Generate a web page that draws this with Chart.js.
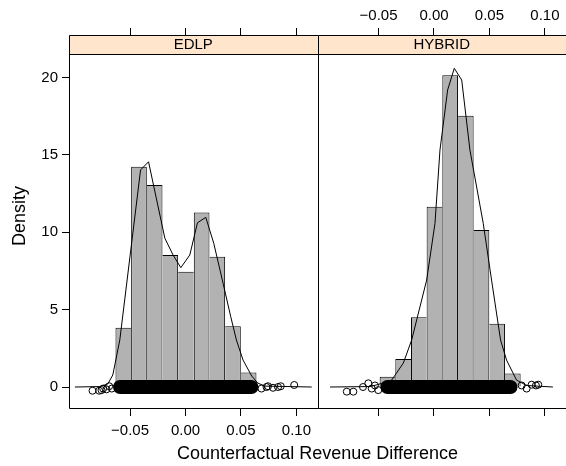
<!DOCTYPE html>
<html><head><meta charset="utf-8">
<script src="https://cdn.jsdelivr.net/npm/chart.js@4"></script>
<style>html,body{margin:0;padding:0;background:#fff;}canvas{display:block;}</style>
</head><body>
<canvas id="c" width="566" height="466"></canvas>
<script>
// ---------- data ----------
const panelNames = ['EDLP', 'HYBRID'];
const binCenters = [-0.05604, -0.04192, -0.0278, -0.01368, 0.00044, 0.01456, 0.02868, 0.0428, 0.05692, 0.07104];
const edlpHist   = [3.83, 14.23, 13.05, 8.53, 7.45, 11.28, 8.42, 3.92, 0.93, null];
const hybridHist = [null, 0.67, 1.81, 4.50, 11.65, 20.14, 17.53, 10.14, 4.09, 0.88];

const edlpDensX = [-0.0997,-0.0772,-0.0700,-0.0655,-0.0592,-0.0405,-0.0333,-0.0186,-0.0112,-0.0042,0.0039,0.0108,0.0183,0.0255,0.0339,0.0408,0.0459,0.0519,0.0597,0.0651,0.0714,0.1138];
const edlpDensY = [0,0.03,0.20,0.78,3.04,14.02,14.55,9.61,8.53,7.71,8.53,10.61,10.96,9.28,6.70,4.54,3.04,1.74,0.71,0.26,0.06,0];
const hybridDensX = [-0.0937,-0.0577,-0.0505,-0.0381,-0.0276,-0.0201,-0.0066,0.0009,0.0054,0.0123,0.0183,0.0250,0.0324,0.0444,0.0519,0.0600,0.0654,0.0744,0.0835,0.1072];
const hybridDensY = [0,0.03,0.16,0.45,1.55,3.04,6.91,10.57,15.31,19.19,20.59,19.83,15.31,10.57,6.91,3.04,1.74,0.45,0.10,0];

// jittered raw observations: dense core (as a band) and the separate outlying points
const edlpBandX   = [-0.0590, 0.0595];
const hybridBandX = [-0.0420, 0.0690];
const edlpRugX = [-0.0838,-0.0778,-0.0757,-0.0742,-0.0712,-0.0688,-0.0664,0.0685,0.0730,0.0744,0.0789,0.0834,0.0859,0.0980];
const edlpRugY = [-0.24,-0.24,-0.20,-0.10,-0.15,0.05,-0.10,-0.10,0.00,0.05,-0.05,0.00,0.05,0.13];
const hybridRugX = [-0.0786,-0.0727,-0.0640,-0.0592,-0.0561,-0.0532,-0.0502,0.0790,0.0835,0.0880,0.0919,0.0940];
const hybridRugY = [-0.30,-0.30,0.00,0.24,-0.10,0.10,-0.20,0.10,-0.10,0.15,0.10,0.15];

const xTickValues = [-0.05, 0.00, 0.05, 0.10];
const xTickLabels = ['\u22120.05', '0.00', '0.05', '0.10'];
const yTickValues = [0, 5, 10, 15, 20];
const yTickLabels = ['0', '5', '10', '15', '20'];
const xTitle = 'Counterfactual Revenue Difference';
const yTitle = 'Density';

// ---------- chart ----------
const FONT = "'Liberation Sans', Arial, Helvetica, sans-serif";
Chart.defaults.font.family = FONT;
Chart.defaults.color = '#000';

const X_MIN = -0.105, X_MAX = 0.119;
const Y_MIN = -1.42, Y_MAX = 22.74;
const STRIP_H = 19;

function pts(xs, ys) { return xs.map((x, i) => ({x: x, y: ys[i]})).filter(p => p.y !== null); }
function histPts(ys) { return binCenters.map((x, i) => ({x: x, y: ys[i]})).filter(p => p.y !== null); }

function xScale(position, stack, showLabels) {
  return {
    type: 'linear', position: position, stack: stack, stackWeight: 1,
    min: X_MIN, max: X_MAX, offset: false,
    afterBuildTicks: s => { s.ticks = xTickValues.map(v => ({value: v})); },
    afterFit: s => { s.height = position === 'top' ? 35 : 57; s.paddingLeft = 0; s.paddingRight = 0; },
    grid: {display: true, offset: false, drawOnChartArea: false, drawTicks: true, tickLength: 7, color: '#000', lineWidth: 1},
    border: {display: false},
    ticks: {display: showLabels, autoSkip: false, maxRotation: 0, padding: position === 'top' ? 3 : 6,
            font: {size: 15}, color: '#000', callback: (v, i) => xTickLabels[i]}
  };
}

function barBorder(values) {
  const hs = values.filter(v => v !== null);
  return ctx => {
    const i = ctx.dataIndex, h = hs[i];
    return {
      top: 1, bottom: 0,
      left: (i === 0 || h > hs[i - 1]) ? 1 : 0,
      right: (i === hs.length - 1 || h >= hs[i + 1]) ? 1 : 0
    };
  };
}

const barCommon = {type: 'bar', yAxisID: 'y', backgroundColor: '#B2B2B2', borderColor: '#000', grouped: false,
  barPercentage: 1, categoryPercentage: 1, order: 3, borderSkipped: 'start', inflateAmount: 0};
const lineCommon = {type: 'line', yAxisID: 'y', borderColor: '#000', borderWidth: 1, pointRadius: 0, tension: 0, fill: false, order: 2};
const bandCommon = {type: 'line', yAxisID: 'y', borderColor: '#000', borderWidth: 14, borderCapStyle: 'round', pointRadius: 0, fill: false, order: 1};
const rugCommon = {type: 'scatter', yAxisID: 'y', borderColor: '#000', backgroundColor: 'rgba(0,0,0,0)', borderWidth: 1, pointRadius: 3.5, order: 0};

const panelPlugin = {
  id: 'panels',
  afterDraw(chart) {
    const ctx = chart.ctx, a = chart.chartArea;
    const panels = [chart.scales.xL, chart.scales.xRb];
    ctx.save();
    const top = Math.round(a.top) + 0.5;
    const sb = Math.round(a.top + STRIP_H) + 0.5;
    const bot = Math.round(a.bottom) - 0.5;
    panels.forEach((s, k) => {
      const l = Math.round(s.left) + 0.5;
      const r = Math.round(s.right) + 0.5;
      ctx.fillStyle = '#FFE5CC';
      ctx.fillRect(l, top, r - l, sb - top);
      ctx.strokeStyle = '#000';
      ctx.lineWidth = 1;
      ctx.beginPath();
      ctx.moveTo(l, top); ctx.lineTo(r, top);
      ctx.moveTo(l, sb); ctx.lineTo(r, sb);
      ctx.moveTo(l, bot); ctx.lineTo(r, bot);
      ctx.moveTo(l, top); ctx.lineTo(l, bot);
      ctx.stroke();
      ctx.fillStyle = '#000';
      ctx.font = '15px ' + FONT;
      ctx.textAlign = 'center';
      ctx.textBaseline = 'middle';
      ctx.fillText(panelNames[k], (s.left + s.right) / 2, (a.top + a.top + STRIP_H) / 2 + 0.5);
    });
    // axis titles
    ctx.font = '18px ' + FONT;
    ctx.textAlign = 'center';
    ctx.textBaseline = 'alphabetic';
    ctx.fillText(xTitle, (a.left + a.right) / 2, 459);
    ctx.translate(25, 216);
    ctx.rotate(-Math.PI / 2);
    ctx.fillText(yTitle, 0, 0);
    ctx.restore();
  }
};

new Chart(document.getElementById('c'), {
  type: 'bar',
  data: {
    datasets: [
      Object.assign({}, rugCommon, {xAxisID: 'xL', data: pts(edlpRugX, edlpRugY)}),
      Object.assign({}, rugCommon, {xAxisID: 'xRb', data: pts(hybridRugX, hybridRugY)}),
      Object.assign({}, bandCommon, {xAxisID: 'xL', data: edlpBandX.map(x => ({x: x, y: 0}))}),
      Object.assign({}, bandCommon, {xAxisID: 'xRb', data: hybridBandX.map(x => ({x: x, y: 0}))}),
      Object.assign({}, lineCommon, {xAxisID: 'xL', data: pts(edlpDensX, edlpDensY)}),
      Object.assign({}, lineCommon, {xAxisID: 'xRb', data: pts(hybridDensX, hybridDensY)}),
      Object.assign({}, barCommon, {xAxisID: 'xL', data: histPts(edlpHist), borderWidth: barBorder(edlpHist)}),
      Object.assign({}, barCommon, {xAxisID: 'xRb', data: histPts(hybridHist), borderWidth: barBorder(hybridHist)})
    ]
  },
  options: {
    responsive: false, animation: false, devicePixelRatio: 1,
    layout: {padding: 0, autoPadding: false},
    plugins: {legend: {display: false}, tooltip: {enabled: false}, title: {display: false}},
    scales: {
      xL: xScale('bottom', 'b', true),
      xRb: xScale('bottom', 'b', false),
      xRt: xScale('top', 't', true),
      xLt: xScale('top', 't', false),
      y: {
        type: 'linear', position: 'left', min: Y_MIN, max: Y_MAX,
        afterBuildTicks: s => { s.ticks = yTickValues.map(v => ({value: v})); },
        afterFit: s => { s.width = 69; },
        grid: {display: true, drawOnChartArea: false, drawTicks: true, tickLength: 7, color: '#000'},
        border: {display: false},
        ticks: {font: {size: 15}, padding: 4, color: '#000', callback: (v, i) => yTickLabels[i]}
      }
    }
  },
  plugins: [panelPlugin]
});
</script>
</body></html>
